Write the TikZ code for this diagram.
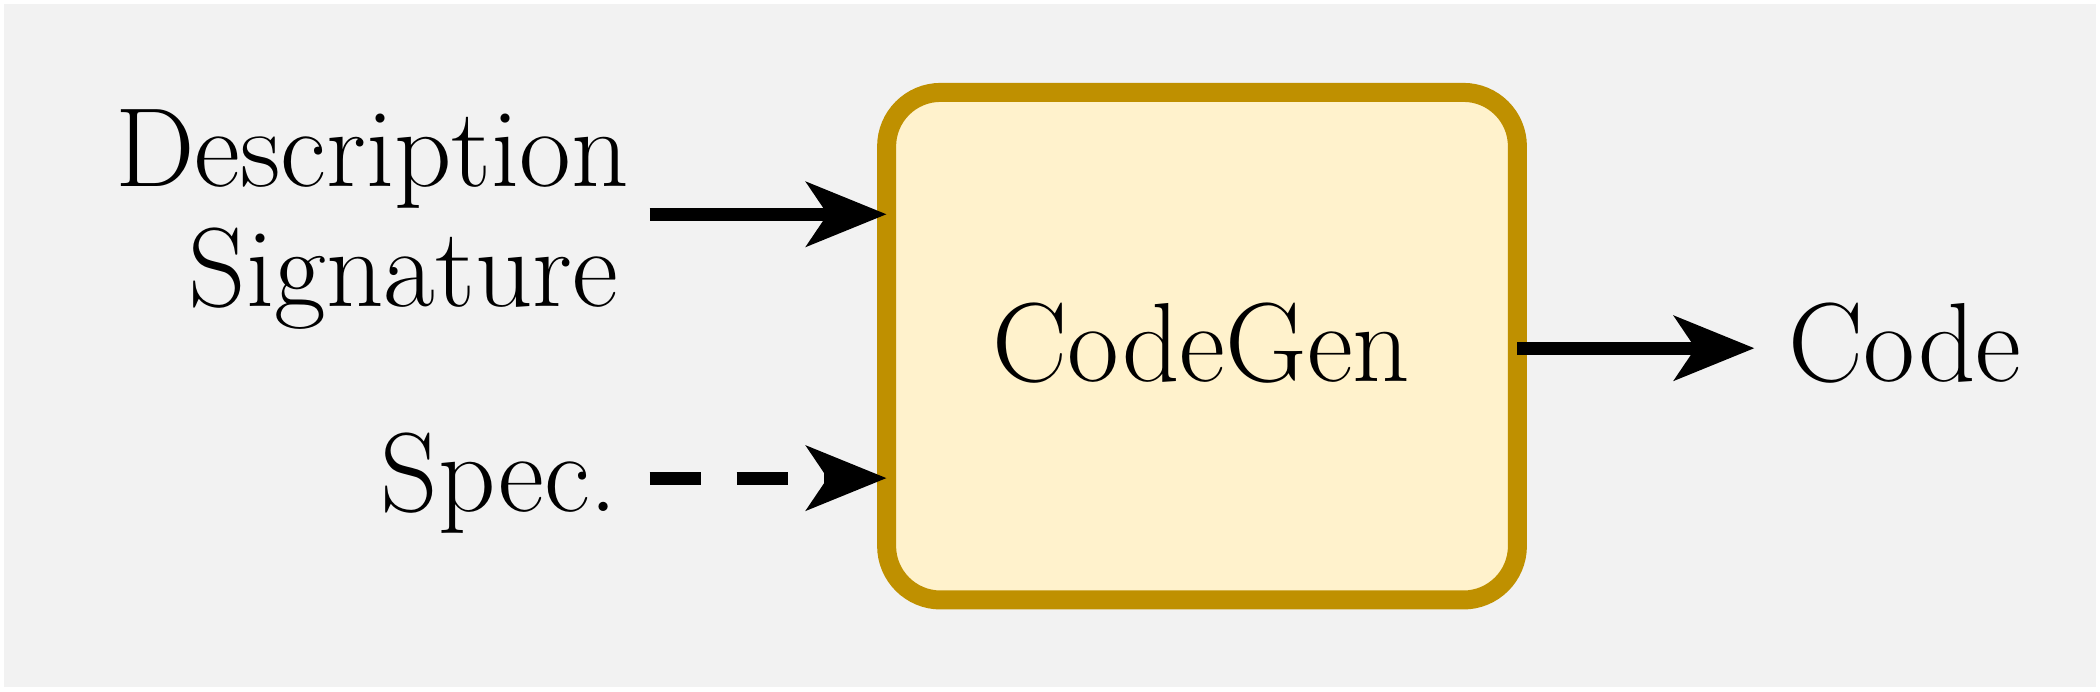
\documentclass[tikz,border=0pt]{standalone}
\usetikzlibrary{arrows.meta}
\definecolor{boxfill}{HTML}{FFF2CC}
\definecolor{boxdraw}{HTML}{BF9000}
\definecolor{bgcol}{HTML}{F2F2F2}
\begin{document}
\begin{tikzpicture}[x=1.339cm, y=1.339cm,
  font=\fontsize{32}{38}\selectfont,
  lbl/.style={inner sep=0pt},
  flow/.style={line width=3.75pt, -{Stealth[length=0.8cm,width=0.64cm,inset=0.21cm]}},
  block/.style={draw=boxdraw, fill=boxfill, line width=5.4pt, rounded corners=0.54cm}]
\fill[white] (0,0) rectangle (15.68,5.16);
\fill[bgcol] (0.03,0.03) rectangle (15.65,5.13);
% main block
\draw[block] (6.62,0.68) rectangle (11.33,4.47);
\node[lbl, anchor=base] (codegen) at (8.97,2.31) {CodeGen};
% inputs and output
\node[lbl, anchor=base east] (desc) at (4.70,3.77) {Description};
\node[lbl, anchor=base east] (sig) at (4.62,2.87) {Signature};
\node[lbl, anchor=base east] (spec) at (4.62,1.34) {Spec.};
\node[lbl, anchor=base west] (code) at (13.35,2.31) {Code};
\coordinate (descin) at (6.62,3.56);
\coordinate (specin) at (6.62,1.59);
\coordinate (codeout) at (11.33,2.56);
\draw[flow] (4.85,3.56) -- (descin);
\draw[flow, dash pattern=on 0.51cm off 0.36cm] (4.85,1.59) -- (specin);
\draw[flow] (codeout) -- (13.1,2.56);
\end{tikzpicture}
\end{document}
